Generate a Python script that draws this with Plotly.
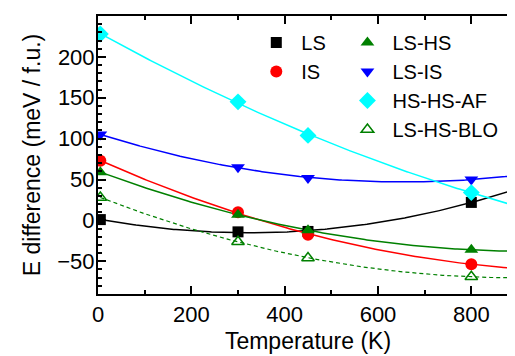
import numpy as np
import plotly.graph_objects as go

temps = [5, 300, 450, 800]
ls = [1, -14, -13.5, 22]
is_ = [73, 10, -17.5, -53.5]
ls_hs = [59, 7, -12, -36]
ls_is = [105, 65, 52, 50]
hs_hs_af = [228, 145, 104, 34]
ls_hs_blo = [28, -26, -46, -69]

x_ticks = [0, 200, 400, 600, 800]
y_ticks = [-50, 0, 50, 100, 150, 200]

series = [
    ("LS", ls, "black", "square", "legend", "solid", 11),
    ("IS", is_, "#ff0000", "circle", "legend", "solid", 12),
    ("LS-HS", ls_hs, "#008000", "triangle-up", "legend2", "solid", 12),
    ("LS-IS", ls_is, "#0000ff", "triangle-down", "legend2", "solid", 12),
    ("HS-HS-AF", hs_hs_af, "#00ffff", "diamond", "legend2", "solid", 13),
    ("LS-HS-BLO", ls_hs_blo, "#008000", "triangle-up-open", "legend2", "dash", 11),
]

fig = go.Figure()
xs = np.linspace(temps[0], 900, 200)
for name, vals, col, sym, leg, dash, size in series:
    coef = np.polyfit(temps, vals, 2)
    fig.add_trace(go.Scatter(x=xs, y=np.polyval(coef, xs), mode="lines",
                             line=dict(color=col, width=1.5 if dash == "solid" else 1.2,
                                       dash="4px,3px" if dash == "dash" else "solid"),
                             showlegend=False, hoverinfo="skip"))
for name, vals, col, sym, leg, dash, size in series:
    fig.add_trace(go.Scatter(x=temps, y=vals, mode="markers", name=name,
                             marker=dict(symbol=sym, color=col, size=size,
                                         line=dict(color=col, width=1.5 if "open" in sym else 0)),
                             legend=leg))

axis_common = dict(showline=True, linecolor="black", linewidth=2, ticks="inside",
                   tickcolor="black", tickwidth=1.5, ticklen=8, showgrid=False,
                   zeroline=False, mirror="allticks", automargin=False,
                   tickfont=dict(family="Liberation Sans, Arial", size=22, color="black"))

fig.update_xaxes(range=[0, 900], tickvals=x_ticks, **axis_common,
                 minor=dict(dtick=100, tick0=0, ticks="inside", ticklen=4, tickwidth=1.5, tickcolor="black"),
                 title=dict(text="Temperature (K)", standoff=6,
                            font=dict(family="Liberation Sans, Arial", size=23, color="black")))
fig.update_yaxes(range=[-90, 250], tickvals=y_ticks, **axis_common, ticklabelstandoff=-3,
                 minor=dict(dtick=10, tick0=0, ticks="inside", ticklen=4, tickwidth=1.5, tickcolor="black"),
                 title=dict(text="E difference (meV / f.u.)", standoff=10,
                            font=dict(family="Liberation Sans, Arial", size=23, color="black")))

leg_font = dict(family="Liberation Sans, Arial", size=20, color="black")
fig.update_layout(
    width=510, height=348,
    margin=dict(l=90, r=0, t=8, b=62),
    paper_bgcolor="white", plot_bgcolor="white",
    legend=dict(x=0.365, y=0.975, xanchor="left", yanchor="top", font=leg_font,
                bgcolor="rgba(0,0,0,0)", itemwidth=40, tracegroupgap=0),
    legend2=dict(x=0.582, y=0.975, xanchor="left", yanchor="top", font=leg_font,
                 bgcolor="rgba(0,0,0,0)", itemwidth=40, tracegroupgap=0),
)
fig.write_html("out.html")
